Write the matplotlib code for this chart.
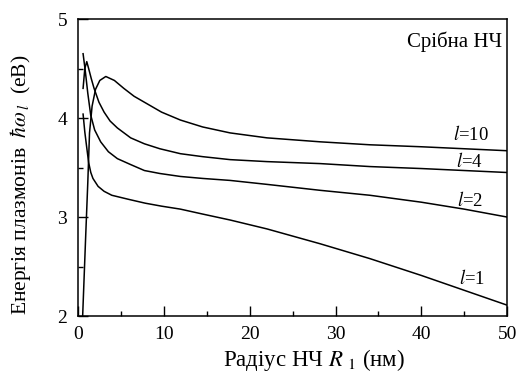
import matplotlib
matplotlib.use("Agg")
import matplotlib.pyplot as plt
from matplotlib.ticker import MultipleLocator

plt.rcParams.update({
    "font.family": ["Liberation Serif", "DejaVu Serif"],
    "mathtext.fontset": "stix",
})

# Radius R1 (nm) and plasmon energy (eV), one curve per l
r_l1 = [0.55, 0.75, 0.95, 1.2, 1.45, 1.7, 2.3, 3.0, 3.9, 5.8, 7.8, 9.7, 11.9,
        14.5, 17.7, 22, 28.2, 34, 40, 45, 50]
e_l1 = [4.04, 3.86, 3.72, 3.55, 3.45, 3.39, 3.31, 3.26, 3.22, 3.18, 3.14, 3.11,
        3.08, 3.03, 2.97, 2.88, 2.73, 2.58, 2.41, 2.26, 2.11]

r_l2 = [0.55, 0.8, 1.1, 1.44, 1.9, 2.6, 3.5, 4.55, 6.1, 7.7, 9.5, 11.9, 14.5,
        17.7, 22, 28.2, 34, 40, 45, 50]
e_l2 = [4.65, 4.48, 4.25, 4.03, 3.88, 3.76, 3.66, 3.59, 3.53, 3.47, 3.44, 3.41,
        3.39, 3.37, 3.33, 3.27, 3.22, 3.15, 3.08, 3.00]

r_l4 = [0.55, 0.75, 0.98, 1.2, 1.5, 1.83, 2.4, 3.0, 3.7, 4.55, 6.1, 7.7, 9.5,
        11.9, 14.5, 17.7, 22, 28.2, 34, 40, 45, 50]
e_l4 = [4.30, 4.50, 4.57, 4.50, 4.40, 4.30, 4.16, 4.06, 3.97, 3.90, 3.80, 3.74,
        3.69, 3.64, 3.61, 3.58, 3.56, 3.54, 3.51, 3.49, 3.47, 3.45]

r_l10 = [0.5, 0.85, 1.1, 1.3, 1.6, 2.0, 2.5, 3.2, 4.2, 5.3, 6.5, 7.7, 9.7, 11.9,
         14.5, 17.7, 22, 28.2, 34, 40, 45, 50]
e_l10 = [2.0, 2.8, 3.35, 3.85, 4.12, 4.29, 4.38, 4.42, 4.38, 4.30, 4.22, 4.16,
         4.06, 3.98, 3.91, 3.85, 3.80, 3.76, 3.73, 3.71, 3.69, 3.67]

curve_labels = [r"$l$=1", r"$l$=2", r"$l$=4", r"$l$=10"]
label_pos = [(45.9, 2.38), (45.7, 3.17), (45.6, 3.56), (45.8, 3.83)]

fig = plt.figure(figsize=(5.19, 3.74), dpi=100)
ax = fig.add_axes([0.151, 0.155, 0.826, 0.794])

for r, e in [(r_l1, e_l1), (r_l2, e_l2), (r_l4, e_l4), (r_l10, e_l10)]:
    ax.plot(r, e, color="black", linewidth=1.1)

for txt, (x, y) in zip(curve_labels, label_pos):
    ax.text(x, y, txt, ha="center", va="center", fontsize=13.5)

ax.text(49.4, 4.77, "Срібна НЧ", ha="right", va="center", fontsize=15)

ax.set_xlim(0, 50)
ax.set_ylim(2, 5)
ax.xaxis.set_major_locator(MultipleLocator(10))
ax.xaxis.set_minor_locator(MultipleLocator(5))
ax.yaxis.set_major_locator(MultipleLocator(1))
ax.yaxis.set_minor_locator(MultipleLocator(0.5))
ax.tick_params(which="both", direction="in", top=False, right=False,
               width=1.0, labelsize=14)
ax.tick_params(which="major", length=7)
ax.tick_params(which="minor", length=3.6)
ax.tick_params(axis="y", which="major", pad=8)
ax.tick_params(axis="x", which="major", pad=7)
for s in ax.spines.values():
    s.set_linewidth(1.1)

ax.set_xlabel(r"Радіус НЧ $R_{\;\,1}$ (нм)", fontsize=16.5, va="center")
ax.xaxis.set_label_coords(0.55, -0.148)
ax.set_ylabel(r"Енергія плазмонів  $\hbar\omega_{\,l}$  (еВ)", fontsize=15.5,
              va="center")
ax.yaxis.set_label_coords(-0.136, 0.441)

fig.savefig("out.png", dpi=100)
